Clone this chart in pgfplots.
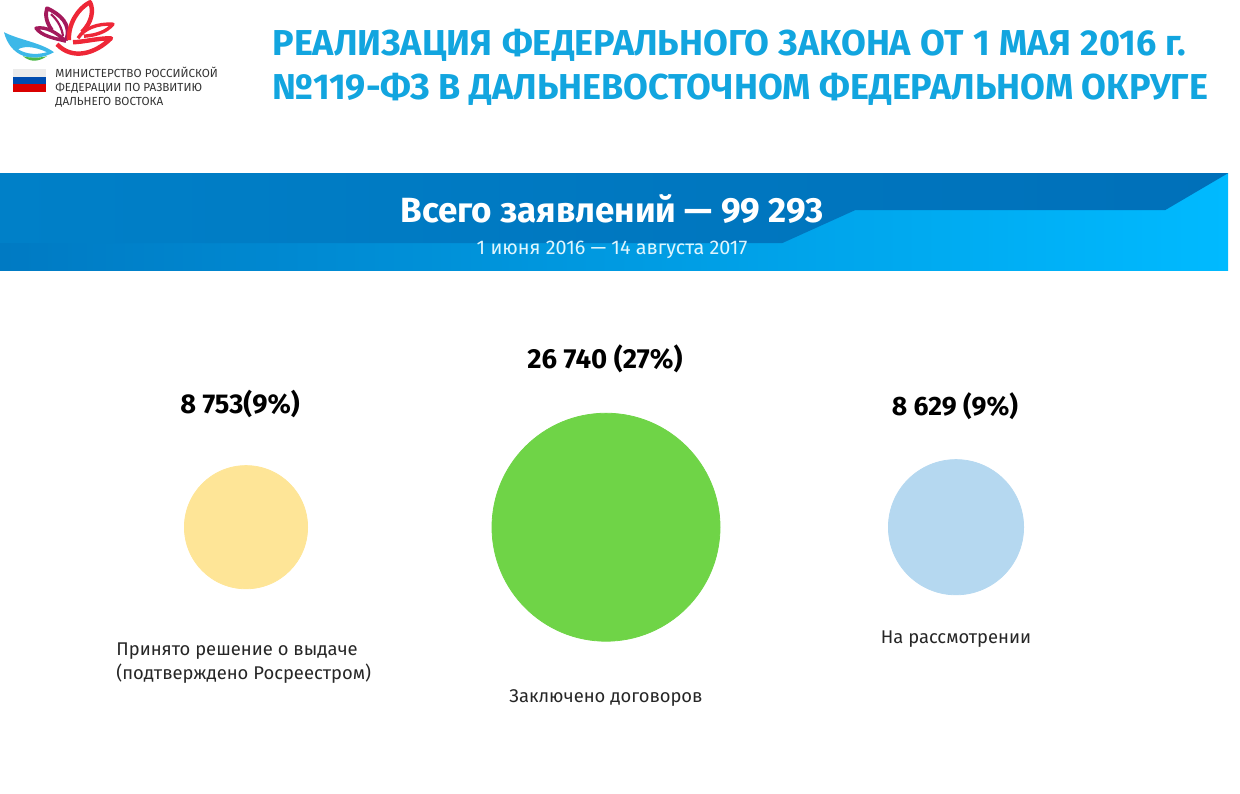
\documentclass[border=0pt]{standalone}
\usepackage{fontspec}
\setmainfont{Fira Sans}
\usepackage{pgfplots}
\pgfplotsset{compat=1.18}
\definecolor{titleblue}{HTML}{12A5DF}
\definecolor{bubyellow}{HTML}{FEE597}
\definecolor{bubgreen}{HTML}{6FD447}
\definecolor{bubblue}{HTML}{B5D8F0}
\definecolor{logored}{HTML}{EE2737}
\definecolor{logoplum}{HTML}{A3195B}
\definecolor{logosky}{HTML}{3DB8E8}
\definecolor{logogreen}{HTML}{4DB848}
\begin{document}
\begin{tikzpicture}
\begin{axis}[
    x=0.5pt, y=0.5pt,
    xmin=0, xmax=1240, ymin=0, ymax=793,
    y dir=reverse,
    hide axis,
    clip=false,
]
% keeps the page the size of the whole slide
\path (axis cs:0,0) rectangle (axis cs:1240,793);
% banner
\path[shade, draw=none, left color={rgb,255:red,0;green,122;blue,195}, middle color={rgb,255:red,0;green,160;blue,228}, right color={rgb,255:red,0;green,186;blue,255}]
    (axis cs:0,173) rectangle (axis cs:1228,270);
\path[shade, draw=none, left color={rgb,255:red,0;green,128;blue,200}, middle color={rgb,255:red,0;green,155;blue,222}, right color={rgb,255:red,0;green,112;blue,185}]
    (axis cs:0,173) -- (axis cs:1228,173) -- (axis cs:1165,210) -- (axis cs:855,210) -- (axis cs:782,243) -- (axis cs:0,243) -- cycle;
% logo
\fill[logosky, even odd rule] (axis cs:4,32) .. controls (axis cs:10,56) and (axis cs:32,64) .. (axis cs:54,52) .. controls (axis cs:40,42) and (axis cs:20,40) .. (axis cs:4,32) -- cycle
    (axis cs:18,49) .. controls (axis cs:26,54) and (axis cs:36,55) .. (axis cs:47,52) .. controls (axis cs:36,47) and (axis cs:26,45) .. (axis cs:18,49) -- cycle;
\fill[logogreen] (axis cs:23,56) .. controls (axis cs:30,62) and (axis cs:38,62) .. (axis cs:47,56) .. controls (axis cs:38,58) and (axis cs:31,58) .. (axis cs:23,56) -- cycle;
\draw[logoplum, line width=1.7pt, line join=round] (axis cs:66,41) .. controls (axis cs:56,32) and (axis cs:46,26) .. (axis cs:36,28) .. controls (axis cs:42,36) and (axis cs:54,38) .. (axis cs:66,41);
\draw[logoplum, line width=1.9pt, line join=round] (axis cs:52,30) .. controls (axis cs:46,22) and (axis cs:45,14) .. (axis cs:47,8) .. controls (axis cs:60,14) and (axis cs:72,24) .. (axis cs:66,40);
\draw[logoplum, line width=1.1pt] (axis cs:51,14) .. controls (axis cs:58,20) and (axis cs:62,28) .. (axis cs:63,36);
\draw[logored, line width=2.2pt, line join=round] (axis cs:57,44) .. controls (axis cs:72,60) and (axis cs:95,54) .. (axis cs:111,38) .. controls (axis cs:98,38) and (axis cs:82,42) .. (axis cs:73,42);
\draw[logored, line width=2.2pt, line join=round] (axis cs:69,40) .. controls (axis cs:68,24) and (axis cs:78,8) .. (axis cs:90,2) .. controls (axis cs:94,10) and (axis cs:92,22) .. (axis cs:82,32);
\draw[logored, line width=1.7pt, line join=round] (axis cs:78,38) .. controls (axis cs:84,28) and (axis cs:98,23) .. (axis cs:113,24) .. controls (axis cs:106,32) and (axis cs:96,35) .. (axis cs:84,36);
% flag
\fill[black!8] (axis cs:13,69) rectangle (axis cs:46,77);
\fill[blue!55!black!70!cyan] (axis cs:13,77) rectangle (axis cs:46,84);
\fill[red!85!black] (axis cs:13,84) rectangle (axis cs:46,92);
\node[anchor=north west, align=left, font=\fontsize{5.85}{6.9}\selectfont, text=black!80, inner sep=0pt] at (axis cs:55,67) {МИНИСТЕРСТВО РОССИЙСКОЙ\\ФЕДЕРАЦИИ ПО РАЗВИТИЮ\\ДАЛЬНЕГО ВОСТОКА};
% title
\node[anchor=west, font=\fontsize{18}{18}\bfseries\selectfont, text=titleblue, inner sep=0pt] at (axis cs:272,45) {\spaceskip=\dimexpr\fontdimen2\font+0.5pt\relax РЕАЛИЗАЦИЯ ФЕДЕРАЛЬНОГО ЗАКОНА ОТ 1 МАЯ 2016 г.};
\node[anchor=west, font=\fontsize{18}{18}\bfseries\selectfont, text=titleblue, inner sep=0pt] at (axis cs:272,89) {№119-ФЗ В ДАЛЬНЕВОСТОЧНОМ ФЕДЕРАЛЬНОМ ОКРУГЕ};
\node[font=\fontsize{17.5}{17.5}\bfseries\selectfont, text=white, inner sep=0pt] at (axis cs:612,209) {Всего заявлений — 99 293};
\node[font=\fontsize{9.9}{9.9}\selectfont, text=white!88!cyan, inner sep=0pt] at (axis cs:612,250) {1 июня 2016 — 14 августа 2017};
% bubbles
\addplot[only marks, mark=*, mark size=30.8pt, color=bubyellow] coordinates {(246,527)};
\addplot[only marks, mark=*, mark size=57pt, color=bubgreen] coordinates {(606,527)};
\addplot[only marks, mark=*, mark size=33.8pt, color=bubblue] coordinates {(956,527)};
\node[font=\fontsize{13.6}{13.6}\bfseries\selectfont, inner sep=0pt] at (axis cs:240,404) {8 753(9\%)};
\node[font=\fontsize{13.8}{13.8}\bfseries\selectfont, inner sep=0pt] at (axis cs:605,359) {26 740 (27\%)};
\node[font=\fontsize{13.3}{13.3}\bfseries\selectfont, inner sep=0pt] at (axis cs:955,406) {8 629 (9\%)};
\node[anchor=north west, align=left, font=\fontsize{9.2}{12.2}\selectfont, text=black!85, inner sep=0pt] at (axis cs:116,642) {Принято решение о выдаче\\(подтверждено Росреестром)};
\node[font=\fontsize{9.2}{12.2}\selectfont, text=black!85, inner sep=0pt] at (axis cs:606,698) {Заключено договоров};
\node[font=\fontsize{9.2}{12.2}\selectfont, text=black!85, inner sep=0pt] at (axis cs:956,639) {На рассмотрении};
\end{axis}
\end{tikzpicture}
\end{document}
